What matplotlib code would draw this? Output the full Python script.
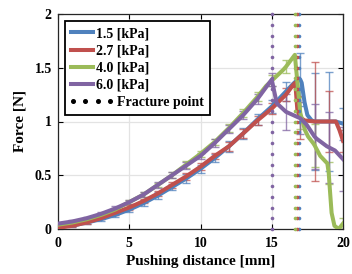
import numpy as np
import matplotlib
matplotlib.use("Agg")
import matplotlib.pyplot as plt
from matplotlib.lines import Line2D
from matplotlib.legend_handler import HandlerBase

# ---------------- data ----------------
labels = ["1.5 [kPa]", "2.7 [kPa]", "4.0 [kPa]", "6.0 [kPa]"]
colors = ["#4F81BD", "#C0504D", "#9BBB59", "#8064A2"]

x_blue = [0, 1, 2, 3, 4, 5, 6, 7, 8, 9, 10, 11, 12, 13, 14, 15, 16, 16.5, 16.9,
          17, 17.1, 17.3, 17.5, 17.8, 18, 18.5, 19, 19.5, 20]
y_blue = [0.02, 0.03, 0.06, 0.09, 0.13, 0.18, 0.24, 0.31, 0.39, 0.47, 0.56, 0.66, 0.77, 0.89, 1.02, 1.14, 1.28, 1.35, 1.40,
          1.39, 1.36, 1.18, 1.06, 1.01, 1.00, 1.00, 1.00, 1.00, 0.98]

x_red = [0, 1, 2, 3, 4, 5, 6, 7, 8, 9, 10, 11, 12, 13, 14, 15, 16, 16.5, 16.65,
         16.8, 17, 17.3, 18, 19, 19.5, 19.75, 20]
y_red = [0.01, 0.03, 0.06, 0.10, 0.15, 0.20, 0.26, 0.33, 0.41, 0.49, 0.58, 0.68, 0.77, 0.89, 1.01, 1.12, 1.25, 1.34, 1.36,
         1.10, 1.04, 1.01, 1.00, 1.00, 1.00, 0.92, 0.82]

x_green = [0, 1, 2, 3, 4, 5, 6, 7, 8, 9, 10, 11, 12, 13, 14, 14.6, 15, 15.8, 16, 16.62,
           16.98, 17, 17.33, 17.55, 17.9, 18, 18.4, 18.9, 19, 19.05, 19.2, 19.4, 19.7, 20]
y_green = [0.04, 0.06, 0.09, 0.13, 0.18, 0.25, 0.32, 0.41, 0.50, 0.60, 0.70, 0.81, 0.94, 1.08, 1.23, 1.33, 1.38, 1.48, 1.51, 1.62,
           1.11, 1.08, 0.92, 0.86, 0.80, 0.78, 0.68, 0.61, 0.52, 0.42, 0.15, 0.03, 0.00, 0.05]

x_purple = [0, 1, 2, 3, 4, 5, 6, 7, 8, 9, 10, 11, 12, 13, 14, 15, 15.35, 16, 17,
            17.45, 18, 18.15, 18.86, 19, 19.44, 20]
y_purple = [0.05, 0.07, 0.10, 0.14, 0.19, 0.25, 0.32, 0.41, 0.50, 0.59, 0.68, 0.80, 0.93, 1.06, 1.21, 1.39, 1.17, 1.09, 1.03,
            0.97, 0.86, 0.84, 0.77, 0.76, 0.73, 0.65]

# error bars (half widths) at x = 1 ... 20
err_x = list(range(1, 21))
err_blue = [0.01, 0.01, 0.02, 0.02, 0.02, 0.03, 0.03, 0.03, 0.04, 0.04, 0.04, 0.05, 0.05, 0.05, 0.06, 0.09, 0.25, 0.45, 0.46, 0.15]
err_red = [0.01, 0.01, 0.01, 0.02, 0.02, 0.02, 0.02, 0.03, 0.03, 0.03, 0.03, 0.04, 0.04, 0.04, 0.05, 0.06, 0.20, 0.55, 0.28, 0.10]
err_green = [0.01, 0.01, 0.01, 0.02, 0.02, 0.02, 0.02, 0.03, 0.03, 0.03, 0.03, 0.04, 0.04, 0.04, 0.05, 0.06, 0.15, 0.20, 0.10, 0.05]
err_purple = [0.01, 0.01, 0.02, 0.02, 0.02, 0.02, 0.03, 0.03, 0.03, 0.03, 0.04, 0.04, 0.04, 0.05, 0.06, 0.17, 0.15, 0.30, 0.33, 0.30]

fracture_x = [16.88, 16.74, 16.62, 15.0]

series = [(x_blue, y_blue, err_blue), (x_red, y_red, err_red),
          (x_green, y_green, err_green), (x_purple, y_purple, err_purple)]

# ---------------- style ----------------
plt.rcParams["font.family"] = ["Liberation Serif", "DejaVu Serif"]
plt.rcParams["font.weight"] = "bold"
plt.rcParams["axes.labelweight"] = "bold"
plt.rcParams["font.size"] = 9.5


class DotsHandler(HandlerBase):
    def create_artists(self, legend, orig_handle, xdescent, ydescent,
                       width, height, fontsize, trans):
        xs = np.linspace(1, width + 12, 4)
        ln = Line2D(xs, [height / 2] * 4, ls="none", marker="o", ms=2.6,
                    color="k", transform=trans)
        return [ln]


fig = plt.figure(figsize=(3.52, 2.74), dpi=100)
ax = fig.add_axes([58 / 352, 1 - 229 / 274, 285 / 352, 215 / 274])

for (xs, ys, es), c in zip(series, colors):
    idx = [xs.index(v) for v in err_x]
    ax.errorbar([xs[i] for i in idx], [ys[i] for i in idx], yerr=es,
                fmt="none", ecolor=c, elinewidth=1.0, capsize=3.2,
                alpha=0.75, zorder=2)

handles = []
for (xs, ys, es), c, lab in zip(series, colors, labels):
    h, = ax.plot(xs, ys, color=c, lw=2.9, label=lab, zorder=3,
                 solid_joinstyle="round")
    handles.append(h)

# fracture points: vertical dotted lines, one dot every 0.1 N
dot_y = np.arange(0, 2.001, 0.1)
for fx, c in zip(fracture_x, colors):
    ax.plot([fx] * len(dot_y), dot_y, ls="none", marker="o", ms=2.6,
            mec="none", color=c, zorder=4, clip_on=False)

dots = Line2D([], [], color="k")
handles.append(dots)

leg = ax.legend(handles, labels + ["      Fracture point"], loc="upper left",
                handler_map={dots: DotsHandler()},
                fancybox=False, framealpha=1, edgecolor="k",
                handlelength=1.6, handletextpad=0.15, labelspacing=0.3,
                borderpad=0.45, borderaxespad=0.5, fontsize=10)
leg.get_frame().set_linewidth(1.3)

ax.set_xlim(0, 20)
ax.set_ylim(0, 2)
ax.set_xticks([0, 5, 10, 15, 20])
ax.set_yticks([0, 0.5, 1, 1.5, 2])
ax.set_yticklabels(["0", "0.5", "1", "1.5", "2"])
ax.grid(True, color="#e3e3e3", lw=0.9)
ax.set_axisbelow(True)
ax.tick_params(direction="in", length=3.5, top=True, right=True,
               labelsize=10, width=0.8)
ax.tick_params(axis="x", pad=6)
ax.tick_params(axis="y", pad=4.5)
for lbl in ax.get_xticklabels() + ax.get_yticklabels():
    lbl.set_fontweight("bold")
for s in ax.spines.values():
    s.set_linewidth(0.9)
    s.set_color("#262626")

ax.set_xlabel("Pushing distance [mm]", fontsize=11, fontweight="bold", labelpad=3)
ax.set_ylabel("Force [N]", fontsize=11, fontweight="bold", labelpad=6)

fig.savefig("out.png", dpi=100)
